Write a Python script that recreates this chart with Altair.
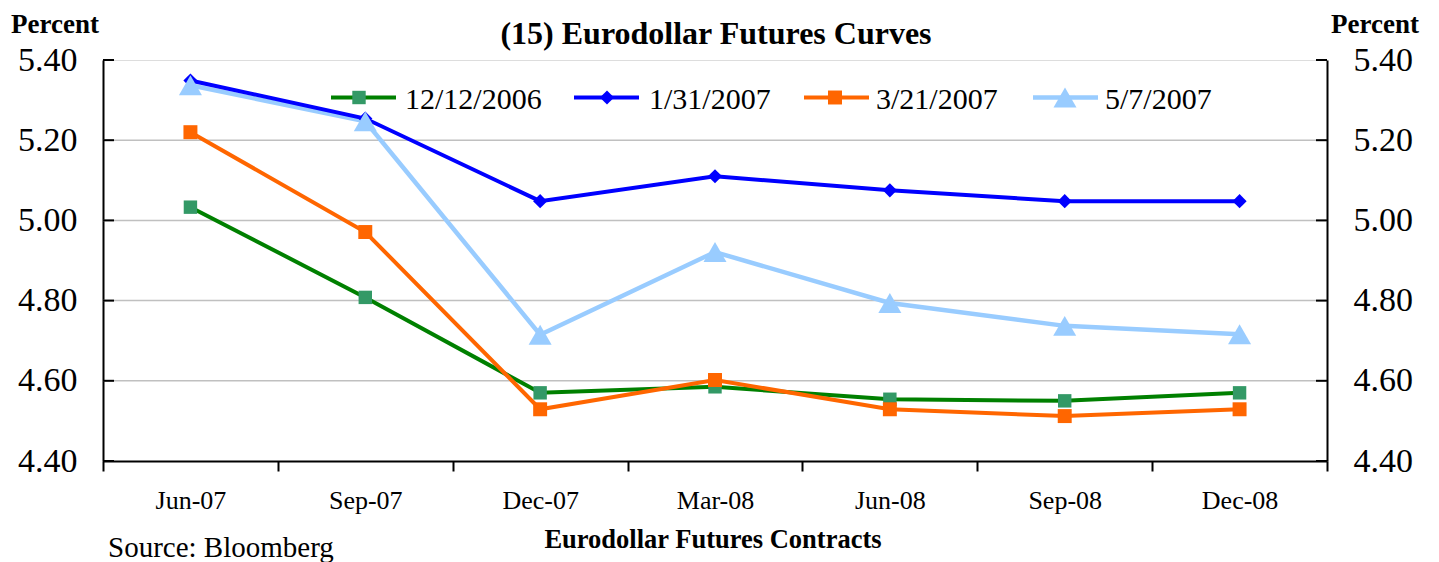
import altair as alt
import pandas as pd

contracts = ["Jun-07", "Sep-07", "Dec-07", "Mar-08", "Jun-08", "Sep-08", "Dec-08"]
series_names = ["12/12/2006", "1/31/2007", "3/21/2007", "5/7/2007"]
v_1212 = [5.033, 4.808, 4.570, 4.585, 4.554, 4.550, 4.570]
v_0131 = [5.349, 5.254, 5.048, 5.110, 5.075, 5.048, 5.048]
v_0321 = [5.220, 4.971, 4.529, 4.602, 4.529, 4.512, 4.529]
v_0507 = [5.337, 5.247, 4.715, 4.921, 4.794, 4.737, 4.716]
values = [v_1212, v_0131, v_0321, v_0507]

y_ticks = [4.40, 4.60, 4.80, 5.00, 5.20, 5.40]
grid_vals = [4.60, 4.80, 5.00, 5.20]

line_colors = ["#008000", "#0000FF", "#FF6600", "#99CCFF"]
mark_colors = ["#339966", "#0000FF", "#FF6600", "#99CCFF"]
shapes = ["square", "diamond", "square", "triangle-up"]
sizes = [180, 200, 195, 530]
widths = [4, 4, 4, 4.5]

W, H = 1224, 401
FONT = "Liberation Serif"

ydom = alt.Scale(domain=[4.40, 5.40], nice=False, zero=False)
xscale = alt.Scale(domain=contracts, type="band", paddingInner=0, paddingOuter=0)

frames = []
for name, vals in zip(series_names, values):
    frames.append(pd.DataFrame({"contract": contracts, "series": name, "value": vals}))

x_axis = alt.Axis(title=None, labelFont=FONT, labelFontSize=26, labelColor="black",
                  labelAngle=0, tickBand="extent", tickSize=10, tickWidth=2,
                  tickColor="black", domainColor="black", domainWidth=2,
                  labelPadding=37, labelBaseline="alphabetic", grid=False)
left_axis = alt.Axis(title=None, values=y_ticks, format=".2f", labelFont=FONT,
                     labelFontSize=34, labelColor="black", ticks=False,
                     labelPadding=26, domainColor="black", domainWidth=2, grid=False)
right_axis = alt.Axis(title=None, values=y_ticks, format=".2f", labelFont=FONT,
                      labelFontSize=34, labelColor="black", ticks=False, orient="right",
                      labelPadding=26, domainColor="black", domainWidth=2, grid=False)

tick_df = pd.DataFrame({"v": y_ticks})
grid_df = pd.DataFrame({"v": grid_vals})

layers = []
# grid
layers.append(alt.Chart(grid_df).mark_rule(color="#c0c0c0", strokeWidth=1.5).encode(
    y=alt.Y("v:Q", scale=ydom, axis=left_axis)))

# lines: draw order
line_order = [3, 0, 2, 1]
for i in line_order:
    layers.append(alt.Chart(frames[i]).mark_line(color=line_colors[i], strokeWidth=widths[i]).encode(
        x=alt.X("contract:N", scale=xscale, sort=contracts, axis=x_axis),
        y=alt.Y("value:Q", scale=ydom, axis=None)))
for i in range(4):
    layers.append(alt.Chart(frames[i]).mark_point(shape=shapes[i], filled=True, opacity=1,
                                                  color=mark_colors[i], size=sizes[i]).encode(
        x=alt.X("contract:N", scale=xscale, sort=contracts, axis=x_axis),
        y=alt.Y("value:Q", scale=ydom, axis=None)))

# inward ticks
layers.append(alt.Chart(tick_df).mark_rule(color="black", strokeWidth=2).encode(
    y=alt.Y("v:Q", scale=ydom, axis=None), x=alt.value(0), x2=alt.value(11)))
layers.append(alt.Chart(tick_df).mark_rule(color="black", strokeWidth=2).encode(
    y=alt.Y("v:Q", scale=ydom, axis=right_axis), x=alt.value(W - 11), x2=alt.value(W)))

# legend
leg_line = [(228, 293), (471, 536), (701, 766), (930, 995)]
leg_mark = [256, 504, 732, 962]
leg_text = [302, 546, 773, 1002]
leg_y = 37.5
one = pd.DataFrame({"a": [0]})
for i in range(4):
    layers.append(alt.Chart(one).mark_rule(color=line_colors[i], strokeWidth=widths[i]).encode(
        x=alt.value(leg_line[i][0]), x2=alt.value(leg_line[i][1]), y=alt.value(leg_y)))
    layers.append(alt.Chart(one).mark_point(shape=shapes[i], filled=True, opacity=1,
                                            color=mark_colors[i], size=sizes[i]).encode(
        x=alt.value(leg_mark[i]), y=alt.value(leg_y)))
    layers.append(alt.Chart(one).mark_text(text=series_names[i], font=FONT, fontSize=30,
                                           align="left", baseline="alphabetic", color="black").encode(
        x=alt.value(leg_text[i]), y=alt.value(leg_y + 11)))

# annotations
def label(txt, x, y, size, bold=False, align="left"):
    return alt.Chart(one).mark_text(text=txt, font=FONT, fontSize=size,
                                    fontWeight="bold" if bold else "normal",
                                    align=align, baseline="alphabetic", color="black").encode(
        x=alt.value(x), y=alt.value(y))

layers.append(label("(15) Eurodollar Futures Curves", 613, -16.5, 32, bold=True, align="center"))
layers.append(label("Percent", -92, -27.5, 27, bold=True))
layers.append(label("Percent", 1228, -27.5, 27, bold=True))
layers.append(label("Eurodollar Futures Contracts", 610, 487.5, 26.5, bold=True, align="center"))
layers.append(label("Source: Bloomberg", 5, 497, 29))

chart = alt.layer(*layers).resolve_scale(y="independent").properties(
    width=W, height=H,
    autosize=alt.AutoSizeParams(type="none"),
    padding={"left": 95, "top": 52, "right": 100, "bottom": 101},
).configure_view(stroke="#404040", strokeWidth=2).configure(background="white")

chart.save("out.html", embed_options={"renderer": "svg", "actions": False})
